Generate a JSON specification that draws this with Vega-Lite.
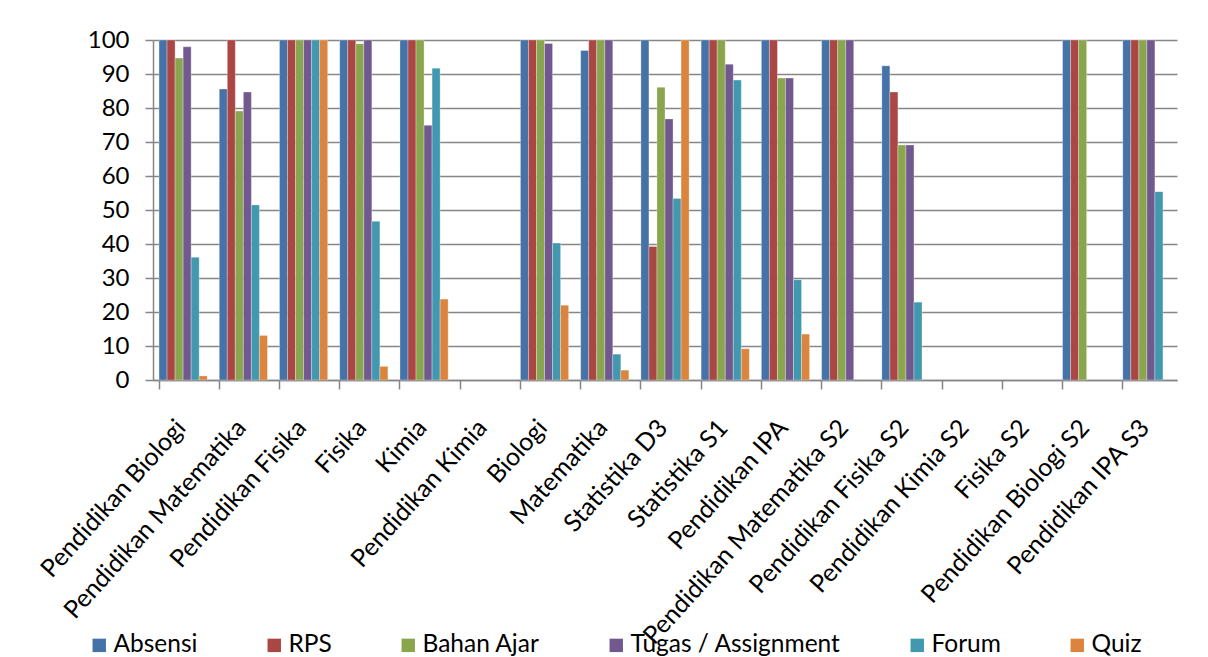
{
  "$schema": "https://vega.github.io/schema/vega-lite/v6.json",
  "autosize": "none",
  "width": 1024,
  "height": 340,
  "padding": {"left": 153, "top": 40, "right": 31, "bottom": 277},
  "background": "white",
  "config": {
    "font": "Lato",
    "view": {"stroke": null},
    "axis": {"labelFont": "Lato", "labelColor": "#000000", "labelFontSize": 23}
  },
  "data": {
    "values": [
      {"p": "Pendidikan Biologi", "s": "Absensi", "v": 100},
      {"p": "Pendidikan Biologi", "s": "RPS", "v": 100},
      {"p": "Pendidikan Biologi", "s": "Bahan Ajar", "v": 94.7},
      {"p": "Pendidikan Biologi", "s": "Tugas / Assignment", "v": 98},
      {"p": "Pendidikan Biologi", "s": "Forum", "v": 36.1},
      {"p": "Pendidikan Biologi", "s": "Quiz", "v": 1.2},
      {"p": "Pendidikan Matematika", "s": "Absensi", "v": 85.6},
      {"p": "Pendidikan Matematika", "s": "RPS", "v": 100},
      {"p": "Pendidikan Matematika", "s": "Bahan Ajar", "v": 79.1},
      {"p": "Pendidikan Matematika", "s": "Tugas / Assignment", "v": 84.7},
      {"p": "Pendidikan Matematika", "s": "Forum", "v": 51.5},
      {"p": "Pendidikan Matematika", "s": "Quiz", "v": 13.1},
      {"p": "Pendidikan Fisika", "s": "Absensi", "v": 100},
      {"p": "Pendidikan Fisika", "s": "RPS", "v": 100},
      {"p": "Pendidikan Fisika", "s": "Bahan Ajar", "v": 100},
      {"p": "Pendidikan Fisika", "s": "Tugas / Assignment", "v": 100},
      {"p": "Pendidikan Fisika", "s": "Forum", "v": 100},
      {"p": "Pendidikan Fisika", "s": "Quiz", "v": 100},
      {"p": "Fisika", "s": "Absensi", "v": 100},
      {"p": "Fisika", "s": "RPS", "v": 100},
      {"p": "Fisika", "s": "Bahan Ajar", "v": 98.9},
      {"p": "Fisika", "s": "Tugas / Assignment", "v": 100},
      {"p": "Fisika", "s": "Forum", "v": 46.7},
      {"p": "Fisika", "s": "Quiz", "v": 4.0},
      {"p": "Kimia", "s": "Absensi", "v": 100},
      {"p": "Kimia", "s": "RPS", "v": 100},
      {"p": "Kimia", "s": "Bahan Ajar", "v": 100},
      {"p": "Kimia", "s": "Tugas / Assignment", "v": 74.9},
      {"p": "Kimia", "s": "Forum", "v": 91.7},
      {"p": "Kimia", "s": "Quiz", "v": 23.8},
      {"p": "Biologi", "s": "Absensi", "v": 100},
      {"p": "Biologi", "s": "RPS", "v": 100},
      {"p": "Biologi", "s": "Bahan Ajar", "v": 100},
      {"p": "Biologi", "s": "Tugas / Assignment", "v": 99},
      {"p": "Biologi", "s": "Forum", "v": 40.3},
      {"p": "Biologi", "s": "Quiz", "v": 22},
      {"p": "Matematika", "s": "Absensi", "v": 96.9},
      {"p": "Matematika", "s": "RPS", "v": 100},
      {"p": "Matematika", "s": "Bahan Ajar", "v": 100},
      {"p": "Matematika", "s": "Tugas / Assignment", "v": 100},
      {"p": "Matematika", "s": "Forum", "v": 7.6},
      {"p": "Matematika", "s": "Quiz", "v": 2.9},
      {"p": "Statistika D3", "s": "Absensi", "v": 100},
      {"p": "Statistika D3", "s": "RPS", "v": 39.3},
      {"p": "Statistika D3", "s": "Bahan Ajar", "v": 86.1},
      {"p": "Statistika D3", "s": "Tugas / Assignment", "v": 76.8},
      {"p": "Statistika D3", "s": "Forum", "v": 53.4},
      {"p": "Statistika D3", "s": "Quiz", "v": 100},
      {"p": "Statistika S1", "s": "Absensi", "v": 100},
      {"p": "Statistika S1", "s": "RPS", "v": 100},
      {"p": "Statistika S1", "s": "Bahan Ajar", "v": 100},
      {"p": "Statistika S1", "s": "Tugas / Assignment", "v": 92.9},
      {"p": "Statistika S1", "s": "Forum", "v": 88.2},
      {"p": "Statistika S1", "s": "Quiz", "v": 9.2},
      {"p": "Pendidikan IPA", "s": "Absensi", "v": 100},
      {"p": "Pendidikan IPA", "s": "RPS", "v": 100},
      {"p": "Pendidikan IPA", "s": "Bahan Ajar", "v": 88.8},
      {"p": "Pendidikan IPA", "s": "Tugas / Assignment", "v": 88.8},
      {"p": "Pendidikan IPA", "s": "Forum", "v": 29.5},
      {"p": "Pendidikan IPA", "s": "Quiz", "v": 13.5},
      {"p": "Pendidikan Matematika S2", "s": "Absensi", "v": 100},
      {"p": "Pendidikan Matematika S2", "s": "RPS", "v": 100},
      {"p": "Pendidikan Matematika S2", "s": "Bahan Ajar", "v": 100},
      {"p": "Pendidikan Matematika S2", "s": "Tugas / Assignment", "v": 100},
      {"p": "Pendidikan Fisika S2", "s": "Absensi", "v": 92.4},
      {"p": "Pendidikan Fisika S2", "s": "RPS", "v": 84.7},
      {"p": "Pendidikan Fisika S2", "s": "Bahan Ajar", "v": 69.1},
      {"p": "Pendidikan Fisika S2", "s": "Tugas / Assignment", "v": 69.1},
      {"p": "Pendidikan Fisika S2", "s": "Forum", "v": 22.9},
      {"p": "Pendidikan Biologi S2", "s": "Absensi", "v": 100},
      {"p": "Pendidikan Biologi S2", "s": "RPS", "v": 100},
      {"p": "Pendidikan Biologi S2", "s": "Bahan Ajar", "v": 100},
      {"p": "Pendidikan IPA S3", "s": "Absensi", "v": 100},
      {"p": "Pendidikan IPA S3", "s": "RPS", "v": 100},
      {"p": "Pendidikan IPA S3", "s": "Bahan Ajar", "v": 100},
      {"p": "Pendidikan IPA S3", "s": "Tugas / Assignment", "v": 100},
      {"p": "Pendidikan IPA S3", "s": "Forum", "v": 55.4}
    ]
  },
  "mark": {"type": "bar", "stroke": "white", "strokeWidth": 0.6, "strokeOpacity": 0.5},
  "encoding": {
    "x": {
      "field": "p",
      "type": "nominal",
      "sort": null,
      "scale": {
        "domain": ["Pendidikan Biologi", "Pendidikan Matematika", "Pendidikan Fisika", "Fisika", "Kimia", "Pendidikan Kimia", "Biologi", "Matematika", "Statistika D3", "Statistika S1", "Pendidikan IPA", "Pendidikan Matematika S2", "Pendidikan Fisika S2", "Pendidikan Kimia S2", "Fisika S2", "Pendidikan Biologi S2", "Pendidikan IPA S3"],
        "paddingInner": 0.2,
        "paddingOuter": 0.1
      },
      "axis": {
        "title": null,
        "bandPosition": 0,
        "labelAngle": -48,
        "labelAlign": "right",
        "labelBaseline": "middle",
        "labelFontSize": 25,
        "labelLimit": 0,
        "labelOffset": -2,
        "labelPadding": 34,
        "tickSize": 9,
        "tickWidth": 1.5,
        "tickColor": "#868686",
        "domainColor": "#868686",
        "domainWidth": 1.5,
        "grid": false
      }
    },
    "xOffset": {
      "field": "s",
      "type": "nominal",
      "sort": null,
      "scale": {
        "domain": ["Absensi", "RPS", "Bahan Ajar", "Tugas / Assignment", "Forum", "Quiz"],
        "paddingInner": 0,
        "paddingOuter": 0
      }
    },
    "y": {
      "field": "v",
      "type": "quantitative",
      "scale": {"domain": [0, 100], "nice": false},
      "axis": {
        "title": null,
        "values": [0, 10, 20, 30, 40, 50, 60, 70, 80, 90, 100],
        "labelFontSize": 24,
        "tickSize": 8,
        "tickWidth": 1.5,
        "tickColor": "#868686",
        "domainColor": "#868686",
        "domainWidth": 1.5,
        "gridColor": "#868686",
        "gridWidth": 1.5,
        "labelPadding": 16
      }
    },
    "color": {
      "field": "s",
      "type": "nominal",
      "sort": null,
      "scale": {
        "domain": ["Absensi", "RPS", "Bahan Ajar", "Tugas / Assignment", "Forum", "Quiz"],
        "range": ["#4572A7", "#AA4643", "#89A54E", "#71588F", "#4198AF", "#DB843D"]
      },
      "legend": {
        "title": null,
        "orient": "none",
        "direction": "horizontal",
        "legendX": -66,
        "legendY": 593,
        "symbolType": "square",
        "symbolSize": 180,
        "symbolStrokeWidth": 0,
        "symbolOpacity": 1,
        "labelFont": "Lato",
        "labelFontSize": 24.5,
        "labelLimit": 0,
        "labelColor": "#000000",
        "labelOffset": 2,
        "columnPadding": 64,
        "padding": 0
      }
    }
  }
}
